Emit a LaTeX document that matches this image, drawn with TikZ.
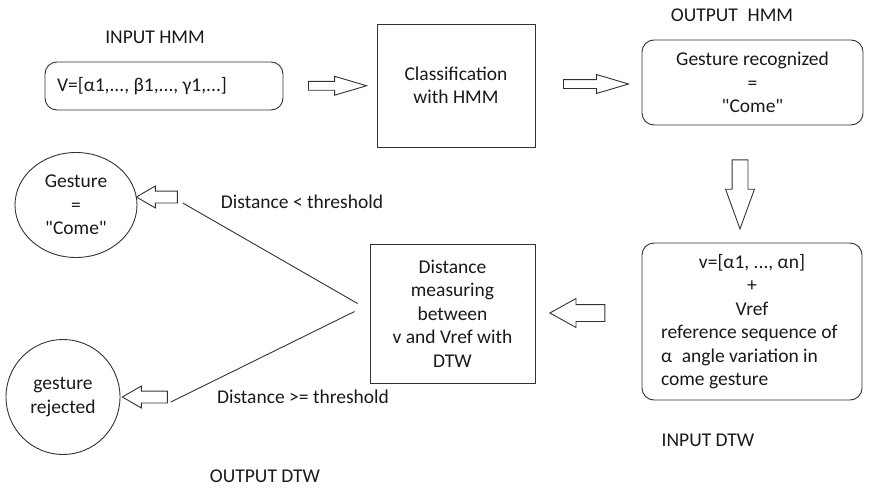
\documentclass[tikz,border=0pt]{standalone}
\usepackage{fontspec}
\setmainfont{Carlito}
\usetikzlibrary{shapes.geometric, shapes.arrows, calc}

\tikzset{
  rbox/.style={draw, rounded corners=12pt, align=center, inner sep=0pt},
  sbox/.style={draw, align=center, inner sep=0pt},
  oval/.style={draw, ellipse, align=center, inner sep=0pt},
  harrow/.style={draw, single arrow, inner sep=#1, minimum height=0pt},
}

\begin{document}
\begin{tikzpicture}[x=1pt, y=-1pt, font=\fontsize{19.5}{23.5}\selectfont,
  draw=black!80, line width=0.9pt, text=black!90]
  \useasboundingbox (0, 0) rectangle (869, 487);

  % top row
  \node (inhmm) at (155, 37) {INPUT HMM};
  \node[rbox, minimum width=238, minimum height=48, text width=214, align=flush left] (vin) at (164, 86)
    {V=[α1,..., β1,..., γ1,...]};
  \node[sbox, minimum width=158, minimum height=123] (cls) at (456, 85.5) {Classification\\with HMM};
  \node (outhmm) at (732, 15) {OUTPUT\enspace HMM};
  \node[rbox, minimum width=221, minimum height=85] (grec) at (752.5, 82.5)
    {Gesture recognized\\=\\\textquotedbl Come\textquotedbl};

  % bottom row
  \node[rbox, minimum width=220, minimum height=157, text width=182, align=flush left] (vref) at (752, 321.5)
    {\makebox[182pt]{v=[α1, ..., αn]}\\\makebox[182pt]{+}\\\makebox[182pt]{Vref}\\
     reference sequence of\\α\enspace angle variation in\\come gesture};
  \node (indtw) at (708, 440) {INPUT DTW};
  \node[sbox, minimum width=165, minimum height=139] (dist) at (452.5, 313.5)
    {Distance\\measuring\\between\\v and Vref with\\DTW};
  \node[oval, minimum width=122, minimum height=105] (acc) at (76, 205)
    {Gesture\\=\\\textquotedbl Come\textquotedbl};
  \node[oval, minimum width=114, minimum height=115] (rej) at (63, 397) {gesture\\rejected};
  \node (lt) at (302, 202) {Distance < threshold};
  \node (ge) at (303, 397) {Distance >= threshold};
  \node (outdtw) at (265, 476) {OUTPUT DTW};

  % block arrows
  \node[harrow=4pt, minimum height=58, single arrow head extend=5pt, single arrow tip angle=33]
    (a1) at ($(vin.east)!0.5!(cls.west)$) {};
  \node[harrow=4pt, minimum height=65, single arrow head extend=5pt, single arrow tip angle=33]
    (a2) at ($(cls.east)!0.5!(grec.west)$) {};
  \node[harrow=7.5pt, minimum height=69, single arrow head extend=6.5pt, single arrow tip angle=40,
    shape border rotate=270] (a3) at (740, 183.5) {};
  \node[harrow=8pt, minimum height=55, single arrow head extend=6pt, single arrow tip angle=58,
    shape border rotate=180] (a4) at (585, 313) {};
  \node[harrow=5.5pt, minimum height=41, single arrow head extend=5pt, single arrow tip angle=60,
    shape border rotate=180] (a5) at (162, 197) {};
  \node[harrow=5.5pt, minimum height=45, single arrow head extend=5pt, single arrow tip angle=60,
    shape border rotate=180] (a6) at (150, 397) {};

  \draw ([shift={(-12,-10)}]dist.west) -- ([shift={(5,6)}]a5.tail);
  \draw ([shift={(-15,-2)}]dist.west) -- ([shift={(3,5)}]a6.tail);
\end{tikzpicture}
\end{document}
